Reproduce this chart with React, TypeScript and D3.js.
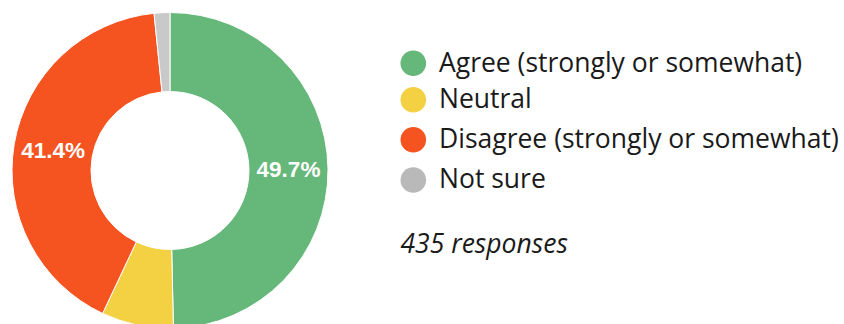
import React, { useEffect, useRef } from "react";
import * as d3 from "d3";

const categories = ["Agree (strongly or somewhat)", "Neutral", "Disagree (strongly or somewhat)", "Not sure"];
const counts = [216, 32, 180, 7];
const colors = ["#66b77a", "#f4d043", "#f55421", "#c9c9c9"];
const legendColors = ["#66b77a", "#f4d043", "#f55421", "#b9b9b9"];
const totalLabel = "435 responses";

const W = 844;
const H = 324;
// legend row centres (layout)
const legendRowY = [63.3, 99.8, 139.7, 180];

export default function App() {
  const ref = useRef<SVGSVGElement>(null);
  useEffect(() => {
    document.body.style.margin = "0";
    const svg = d3.select(ref.current);
    svg.selectAll("*").remove();
    const cx = 170, cy = 170.5, outer = 158, inner = 79;
    const total = d3.sum(counts);
    const pie = d3.pie<number>().sort(null).value((d) => d);
    const arcs = pie(counts);
    const arc = d3.arc<d3.PieArcDatum<number>>().innerRadius(inner).outerRadius(outer);
    const g = svg.append("g").attr("transform", `translate(${cx},${cy})`);
    g.selectAll("path")
      .data(arcs)
      .join("path")
      .attr("d", arc)
      .attr("fill", (_, i) => colors[i])
      .attr("stroke", "#fff")
      .attr("stroke-width", 1);
    const labelArc = d3.arc<d3.PieArcDatum<number>>().innerRadius((inner + outer) / 2).outerRadius((inner + outer) / 2);
    g.selectAll("text")
      .data(arcs.filter((a) => a.value / total > 0.1))
      .join("text")
      .attr("transform", (d) => `translate(${labelArc.centroid(d)})`)
      .attr("text-anchor", "middle")
      .attr("dominant-baseline", "central")
      .attr("fill", "#fff")
      .attr("font-family", "Liberation Sans, Arial, sans-serif")
      .attr("font-weight", "bold")
      .attr("font-size", 22.5)
      .text((d) => ((d.value / total) * 100).toFixed(1) + "%");

    const leg = svg.append("g");
    categories.forEach((c, i) => {
      const yc = legendRowY[i];
      leg.append("circle").attr("cx", 413.3).attr("cy", yc).attr("r", 12.8).attr("fill", legendColors[i]);
      leg.append("text")
        .attr("x", 439)
        .attr("y", yc)
        .attr("dy", "0.32em")
        .attr("font-family", "Open Sans, sans-serif")
        .attr("font-size", 26.5)
        .attr("fill", "#1a1a1a")
        .text(c);
    });
    leg.append("text")
      .attr("x", 400.5)
      .attr("y", 252.5)
      .attr("font-family", "Open Sans, sans-serif")
      .attr("font-style", "italic")
      .attr("font-size", 26.5)
      .attr("fill", "#1a1a1a")
      .text(totalLabel);
  }, []);
  return <svg ref={ref} width={W} height={H} style={{ display: "block" }} />;
}
